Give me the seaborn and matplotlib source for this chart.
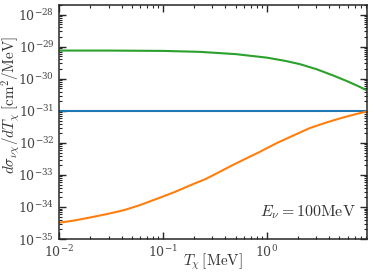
import numpy as np
import pandas as pd
import matplotlib
matplotlib.use("Agg")
import matplotlib.pyplot as plt
import seaborn as sns

# Data (T in MeV, cross sections in cm^2/MeV)
T_blue = [0.01, 9.2]
sig_blue = [1.0e-31, 1.0e-31]

T_orange = [0.01, 0.014, 0.0204, 0.03, 0.0428, 0.06, 0.0896, 0.13, 0.187, 0.26,
            0.338, 0.45, 0.592, 0.85, 1.24, 1.8, 2.59, 3.8, 5.42, 7.2, 9.2]
sig_orange = [3.24e-35, 3.8e-35, 4.8e-35, 6.2e-35, 8.1e-35, 1.15e-34, 1.86e-34,
              2.95e-34, 4.9e-34, 7.6e-34, 1.17e-33, 1.9e-33, 2.95e-33, 5.2e-33,
              9.8e-33, 1.7e-32, 2.9e-32, 4.4e-32, 6.2e-32, 7.9e-32, 9.6e-32]

T_green = [0.01, 0.03, 0.1, 0.227, 0.5, 1.0, 1.5, 2.07, 3.0, 4.3, 6.0, 7.5, 9.2]
sig_green = [7.59e-30, 7.59e-30, 7.41e-30, 6.92e-30, 5.89e-30, 4.57e-30, 3.63e-30,
             2.88e-30, 2.0e-30, 1.29e-30, 8.3e-31, 6.0e-31, 4.37e-31]

sns.set_style("ticks")
plt.rcParams["mathtext.fontset"] = "cm"
plt.rcParams["font.family"] = ["DejaVu Serif"]
plt.rcParams["xtick.direction"] = "in"
plt.rcParams["ytick.direction"] = "in"

df = pd.concat([
    pd.DataFrame({"T": T_blue, "sig": sig_blue, "s": "a"}),
    pd.DataFrame({"T": T_orange, "sig": sig_orange, "s": "b"}),
    pd.DataFrame({"T": T_green, "sig": sig_green, "s": "c"}),
])

fig = plt.figure(figsize=(3.74, 2.79), dpi=100)
ax = fig.add_axes([0.158, 0.143, 0.823, 0.839])

palette = {"a": "#1f77b4", "b": "#ff7f0e", "c": "#2ca02c"}
for key in ["a", "b", "c"]:
    sub = df[df["s"] == key]
    sns.lineplot(data=sub, x="T", y="sig", ax=ax, color=palette[key], lw=1.5,
                 legend=False, sort=True, estimator=None)

ax.set_xscale("log")
ax.set_yscale("log")
ax.set_xlim(0.01, 9.2)
ax.set_ylim(1e-35, 2e-28)
ax.set_yticks([10.0**k for k in range(-35, -27)])
ax.yaxis.set_major_formatter(matplotlib.ticker.LogFormatterMathtext())
ax.yaxis.set_minor_locator(matplotlib.ticker.LogLocator(base=10, subs=np.arange(2, 10), numticks=20))
ax.yaxis.set_minor_formatter(matplotlib.ticker.NullFormatter())

ax.tick_params(which="both", direction="in", top=True, right=True, labelsize=9,
               labelcolor="#444444")
ax.tick_params(which="major", length=5, width=1)
ax.tick_params(which="minor", length=2.5, width=0.8)
for sp in ax.spines.values():
    sp.set_linewidth(1.1)

ax.set_xlabel(r"$T_\chi\,[\mathrm{MeV}]$", fontsize=11, color="#333333")
ax.set_ylabel(r"$d\sigma_{\nu\chi}/dT_\chi\;[\mathrm{cm}^2/\mathrm{MeV}]$", fontsize=10.8,
              color="#333333")
ax.xaxis.label.set_va("center")
ax.yaxis.label.set_va("center")
ax.xaxis.set_label_coords(0.5, -0.098)
ax.yaxis.set_label_coords(-0.158, 0.573)
ax.text(0.965, 0.115, r"$E_\nu = 100\mathrm{MeV}$", transform=ax.transAxes,
        ha="right", va="center", fontsize=11.5, color="#333333")

fig.savefig("out.png", dpi=100)
